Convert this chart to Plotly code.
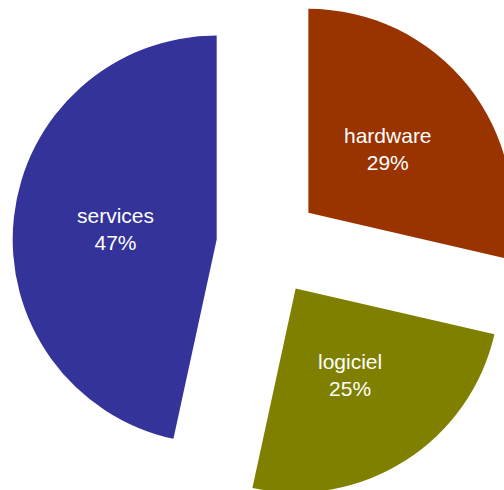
import math
import plotly.graph_objects as go

# Revenue split by segment
labels = ["hardware", "logiciel", "services"]
shares = [28.6, 24.8, 46.6]
colors = ["#993300", "#808000", "#333399"]

# Canvas and exploded-pie geometry (pixels)
W, H = 520, 500
CX, CY = 268, 245      # centre of the unexploded pie
R = 204                # pie radius
PULL = 0.253           # explode distance as a fraction of R
LABEL_R = 0.5          # label distance from slice tip, fraction of R

total = sum(shares)
fig = go.Figure()

start = 0.0
for lab, val, col in zip(labels, shares, colors):
    sweep = 360.0 * val / total
    mid = math.radians(start + sweep / 2)
    # tip of the exploded slice
    vx = CX + PULL * R * math.sin(mid)
    vy = CY - PULL * R * math.cos(mid)

    # one pie per slice: the slice itself plus a transparent remainder
    fig.add_trace(go.Pie(
        values=[val, total - val],
        labels=[lab, ""],
        sort=False,
        direction="clockwise",
        rotation=start if start <= 180 else start - 360,
        marker=dict(colors=[col, "rgba(0,0,0,0)"], line=dict(width=0)),
        textinfo="none",
        hoverinfo="skip",
        showlegend=False,
        domain=dict(
            x=[(vx - R) / W, (vx + R) / W],
            y=[1 - (vy + R) / H, 1 - (vy - R) / H],
        ),
    ))

    # label halfway along the slice's bisector
    lx = vx + LABEL_R * R * math.sin(mid)
    ly = vy - LABEL_R * R * math.cos(mid)
    fig.add_annotation(
        x=lx / W, y=1 - ly / H, xref="paper", yref="paper",
        text=f"{lab}<br>{round(100 * val / total):.0f}%",
        showarrow=False, xanchor="center", yanchor="middle",
        font=dict(family="Liberation Sans, Arial, sans-serif", size=21, color="white"),
    )
    start += sweep

fig.update_layout(
    width=W, height=H,
    margin=dict(l=0, r=0, t=0, b=0),
    paper_bgcolor="white",
    plot_bgcolor="white",
)

fig.write_html("out.html")
